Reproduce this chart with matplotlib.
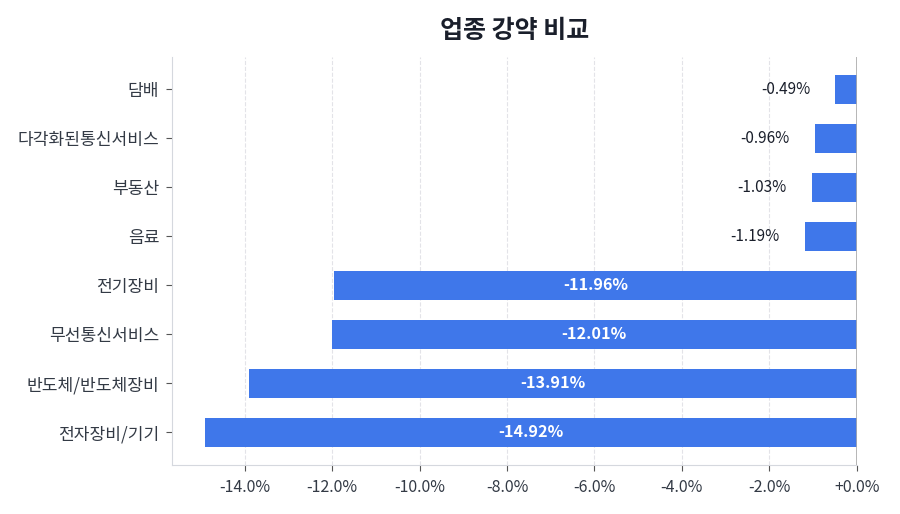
import matplotlib
matplotlib.use("Agg")
import matplotlib.pyplot as plt
from matplotlib.ticker import FuncFormatter, MultipleLocator

plt.rcParams["font.family"] = ["Noto Sans CJK KR", "DejaVu Sans"]

sectors = ["담배", "다각화된통신서비스", "부동산", "음료",
           "전기장비", "무선통신서비스", "반도체/반도체장비", "전자장비/기기"]
changes = [-0.49, -0.96, -1.03, -1.19, -11.96, -12.01, -13.91, -14.92]

BAR_COLOR = "#3f77ea"
TEXT_COLOR = "#333a45"

fig = plt.figure(figsize=(9, 5.14), dpi=100)
ax = fig.add_axes([0.191, 0.095, 0.761, 0.794])

ypos = list(range(len(sectors)))
ax.barh(ypos, changes, height=0.6, color=BAR_COLOR, zorder=3)
ax.set_yticks(ypos)
ax.set_yticklabels(sectors, fontsize=12.3, color=TEXT_COLOR)

xmin = min(changes) * 1.05
ax.set_xlim(xmin, 0)
ax.set_ylim(len(sectors) - 1 + 0.67, -0.66)
ax.xaxis.set_major_locator(MultipleLocator(2))
ax.xaxis.set_major_formatter(FuncFormatter(lambda v, _: f"{v:+.1f}%" if abs(v) > 1e-9 else "+0.0%"))
for lab in ax.get_xticklabels():
    lab.set_fontsize(11.5)
    lab.set_color(TEXT_COLOR)

ax.grid(axis="x", linestyle="--", color="#e3e3e8", linewidth=0.8, zorder=0)
ax.axvline(0, color="#aaaaaa", linewidth=1.2, zorder=4)

for s in ("top", "right"):
    ax.spines[s].set_visible(False)
for s in ("left", "bottom"):
    ax.spines[s].set_color("#d5d8de")
ax.tick_params(axis="both", colors="#555555", length=4)
ax.tick_params(axis="y", labelcolor=TEXT_COLOR, pad=5)
ax.tick_params(axis="x", labelcolor=TEXT_COLOR, pad=6)

for y, v in zip(ypos, changes):
    if abs(v) > 5:
        ax.text(v / 2, y, f"{v:.2f}%", ha="center", va="center",
                color="white", fontsize=11.7, fontweight="bold", zorder=5)
    else:
        ax.annotate(f"{v:.2f}%", xy=(v, y), xytext=(-18, 0),
                    textcoords="offset points", ha="right", va="center",
                    color="#1a1f2b", fontsize=11, zorder=5)

fig.text(0.572, 0.939, "업종 강약 비교", ha="center", va="center",
         fontsize=18, fontweight="bold", color="#1a1f2b")

fig.savefig("out.png", dpi=100)
